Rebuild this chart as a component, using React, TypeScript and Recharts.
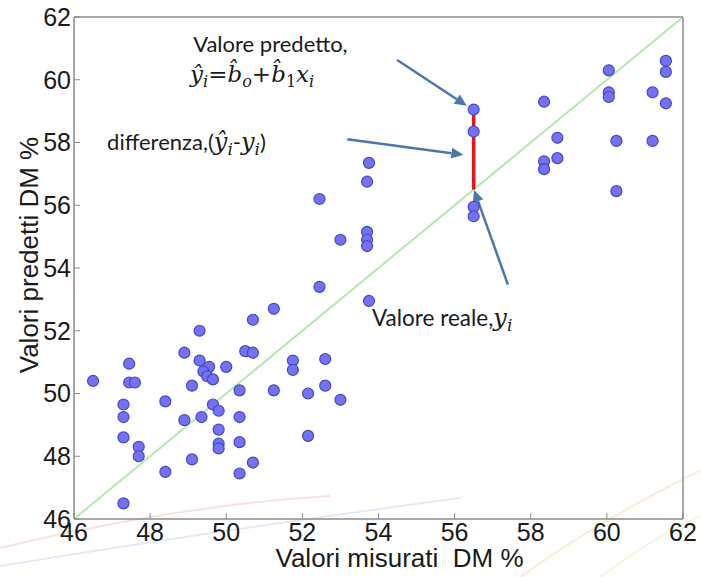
import {
  ScatterChart,
  Scatter,
  XAxis,
  YAxis,
  ReferenceLine,
  ReferenceDot,
  ReferenceArea,
} from 'recharts'

const measured = [
  46.5, 47.45, 47.45, 47.6, 47.3, 47.3, 47.3, 47.7, 47.7, 47.3,
  48.4, 48.4, 48.9, 49.3, 49.3, 49.55, 49.4, 49.5, 49.65, 50.0,
  49.1, 49.65, 49.8, 48.9, 49.35, 49.8, 49.8, 49.8, 49.1, 50.35,
  50.35, 50.35, 50.35, 50.7, 50.5, 50.7, 50.7, 51.25, 51.25, 52.45,
  53.75, 51.75, 51.75, 52.6, 52.15, 52.6, 53.0, 52.15, 56.5, 56.5,
  56.5, 56.5, 53.75, 53.7, 52.45, 53.0, 53.7, 53.7, 53.7, 58.35,
  58.7, 58.35, 58.35, 58.7, 60.05, 60.05, 60.05, 60.25, 60.25, 61.2,
  61.2, 61.55, 61.55, 61.55,
]
const predicted = [
  50.4, 50.95, 50.35, 50.35, 49.65, 49.25, 48.6, 48.3, 48.0, 46.5,
  49.75, 47.5, 51.3, 52.0, 51.05, 50.85, 50.7, 50.55, 50.45, 50.85,
  50.25, 49.65, 49.45, 49.15, 49.25, 48.85, 48.4, 48.25, 47.9, 50.1,
  49.25, 48.45, 47.45, 47.8, 51.35, 51.3, 52.35, 52.7, 50.1, 53.4,
  52.95, 51.05, 50.75, 51.1, 50.0, 50.25, 49.8, 48.65, 59.05, 58.35,
  55.95, 55.65, 57.35, 56.75, 56.2, 54.9, 55.15, 54.9, 54.7, 59.3,
  58.15, 57.4, 57.15, 57.5, 60.3, 59.6, 59.45, 58.05, 56.45, 59.6,
  58.05, 60.6, 60.25, 59.25,
]
const ticks = [46, 48, 50, 52, 54, 56, 58, 60, 62]

// frecce: [x da, y da, x a, y a]
const arrows = [
  [54.49, 60.63, 56.32, 59.17],
  [53.18, 58.1, 56.23, 57.61],
  [57.4, 53.47, 56.51, 56.49],
]

const points = measured.map((x, i) => ({ x, y: predicted[i] }))

const AXIS = '#8a8a8a'
const TEXT = '#1a1a1a'
const ARROW = '#4a78ad'
const AXIS_FONT = '"Liberation Sans", Arial, sans-serif'
const NOTE_FONT = 'Lato, "Open Sans", sans-serif'
const MATH_FONT = "'DejaVu Serif', serif"

function Arrow(props: any) {
  const { x1, y1, x2, y2 } = props
  const ang = Math.atan2(y2 - y1, x2 - x1)
  const len = 12
  const w = 5.5
  const bx = x2 - len * Math.cos(ang)
  const by = y2 - len * Math.sin(ang)
  const px = -Math.sin(ang) * w
  const py = Math.cos(ang) * w
  return (
    <g>
      <line x1={x1} y1={y1} x2={bx} y2={by} stroke={ARROW} strokeWidth={2.5} />
      <polygon
        points={`${x2},${y2} ${bx + px},${by + py} ${bx - px},${by - py}`}
        fill={ARROW}
      />
    </g>
  )
}

function Dot(props: any) {
  const { cx, cy } = props
  return <circle cx={cx} cy={cy} r={5.5} fill="#7272f2" stroke="#4646c8" strokeWidth={1.2} />
}

function Note(render: (x: number, y: number) => any) {
  return (props: any) => render(props.cx, props.cy)
}

// sfondo della slide: archi tenui
function Backdrop() {
  return (
    <svg width={701} height={577} style={{ position: 'absolute', left: 0, top: 0 }}>
      <path d="M0,548 Q180,505 330,496" stroke="#f2c4c8" strokeWidth={2} fill="none" opacity={0.5} />
      <path d="M0,566 Q220,530 460,498" stroke="#c8d8ee" strokeWidth={2} fill="none" opacity={0.5} />
      <path d="M520,577 Q600,520 701,470" stroke="#f6d8b8" strokeWidth={2} fill="none" opacity={0.5} />
      <path d="M600,577 Q650,540 701,515" stroke="#e8eec0" strokeWidth={2} fill="none" opacity={0.5} />
    </svg>
  )
}

export default function App() {
  return (
    <div style={{ position: 'absolute', left: 0, top: 0, width: 701, height: 577 }}>
      <Backdrop />
      <div style={{ position: 'absolute', left: 0, top: 0 }}>
        <ScatterChart width={701} height={577} margin={{ top: 16, right: 17, bottom: 0, left: 0 }}>
          <XAxis
            type="number"
            dataKey="x"
            domain={[46, 62]}
            ticks={ticks}
            interval={0}
            height={58}
            stroke={AXIS}
            tickSize={-6}
            tickMargin={10}
            tick={{ fill: TEXT, fontSize: 25, fontFamily: AXIS_FONT }}
            label={{
              content: ({ viewBox }: any) => (
                <text
                  x={viewBox.x + viewBox.width / 2 + 21}
                  y={viewBox.y + 48}
                  textAnchor="middle"
                  fill={TEXT}
                  fontSize={26}
                  fontFamily={AXIS_FONT}
                  style={{ whiteSpace: 'pre' }}
                >
                  Valori misurati{'\u00a0 '}DM %
                </text>
              ),
            }}
          />
          <XAxis
            xAxisId="top"
            orientation="top"
            type="number"
            dataKey="x"
            domain={[46, 62]}
            ticks={ticks}
            interval={0}
            height={1}
            stroke={AXIS}
            tickSize={-6}
            tick={false}
          />
          <YAxis
            type="number"
            dataKey="y"
            domain={[46, 62]}
            ticks={ticks}
            interval={0}
            width={74}
            stroke={AXIS}
            tickSize={-6}
            tickMargin={9}
            tick={{ fill: TEXT, fontSize: 25, fontFamily: AXIS_FONT }}
            label={{
              content: ({ viewBox }: any) => {
                const cx = 29
                const cy = viewBox.y + viewBox.height / 2 - 13
                return (
                  <text
                    x={cx}
                    y={cy}
                    transform={`rotate(-90 ${cx} ${cy})`}
                    textAnchor="middle"
                    dominantBaseline="central"
                    fill={TEXT}
                    fontSize={26}
                    fontFamily={AXIS_FONT}
                  >
                    Valori predetti DM %
                  </text>
                )
              },
            }}
          />
          <YAxis
            yAxisId="right"
            orientation="right"
            type="number"
            dataKey="y"
            domain={[46, 62]}
            ticks={ticks}
            interval={0}
            width={1}
            stroke={AXIS}
            tickSize={-6}
            tick={false}
          />
          <ReferenceArea x1={46} x2={62} y1={46} y2={62} fill="none" stroke={AXIS} strokeWidth={1} />
          <ReferenceLine
            segment={[{ x: 46, y: 46 }, { x: 62, y: 62 }]}
            stroke="#b4e8b0"
            strokeWidth={2}
          />
          <Scatter
            data={points}
            xAxisId="top"
            yAxisId="right"
            shape={() => <g />}
            isAnimationActive={false}
          />
          <Scatter data={points} shape={<Dot />} isAnimationActive={false} />
          <ReferenceLine
            segment={[{ x: 56.5, y: 56.5 }, { x: 56.5, y: 58.95 }]}
            stroke="#e8141c"
            strokeWidth={3.5}
          />
          {arrows.map((a, i) => (
            <ReferenceLine
              key={i}
              segment={[{ x: a[0], y: a[1] }, { x: a[2], y: a[3] }]}
              shape={Arrow}
            />
          ))}
          <ReferenceDot
            x={49.13}
            y={60.89}
            r={0}
            shape={Note((x, y) => (
              <text x={x} y={y} fill={TEXT} fontSize={22} fontFamily={NOTE_FONT}>
                Valore predetto,
              </text>
            ))}
          />
          <ReferenceDot
            x={49.05}
            y={59.93}
            r={0}
            shape={Note((x, y) => (
              <text x={x} y={y} fill={TEXT} fontSize={23} fontFamily={MATH_FONT}>
                <tspan fontStyle="italic">y&#770;</tspan>
                <tspan fontStyle="italic" fontSize={16} dy={5}>i</tspan>
                <tspan dy={-5}>=</tspan>
                <tspan fontStyle="italic">b&#770;</tspan>
                <tspan fontStyle="italic" fontSize={16} dy={5}>o</tspan>
                <tspan dy={-5}>+</tspan>
                <tspan fontStyle="italic">b&#770;</tspan>
                <tspan fontSize={16} dy={5}>1</tspan>
                <tspan fontStyle="italic" dy={-5}>x</tspan>
                <tspan fontStyle="italic" fontSize={16} dy={5}>i</tspan>
              </text>
            ))}
          />
          <ReferenceDot
            x={46.87}
            y={57.76}
            r={0}
            shape={Note((x, y) => (
              <text x={x} y={y} fill={TEXT} fontSize={22} fontFamily={NOTE_FONT}>
                differenza,(
                <tspan fontStyle="italic" fontFamily={MATH_FONT} fontSize={24}>y&#770;</tspan>
                <tspan fontStyle="italic" fontSize={17} dy={5} fontFamily={MATH_FONT}>i</tspan>
                <tspan dy={-5}>-</tspan>
                <tspan fontStyle="italic" fontFamily={MATH_FONT} fontSize={24}>y</tspan>
                <tspan fontStyle="italic" fontSize={17} dy={5} fontFamily={MATH_FONT}>i</tspan>
                <tspan dy={-5}>)</tspan>
              </text>
            ))}
          />
          <ReferenceDot
            x={53.83}
            y={52.16}
            r={0}
            shape={Note((x, y) => (
              <text x={x} y={y} fill={TEXT} fontSize={22.5} fontFamily={NOTE_FONT}>
                Valore reale,
                <tspan fontStyle="italic" fontFamily={MATH_FONT} fontSize={24}>y</tspan>
                <tspan fontStyle="italic" fontSize={17} dy={5} fontFamily={MATH_FONT}>i</tspan>
              </text>
            ))}
          />
        </ScatterChart>
      </div>
    </div>
  )
}
